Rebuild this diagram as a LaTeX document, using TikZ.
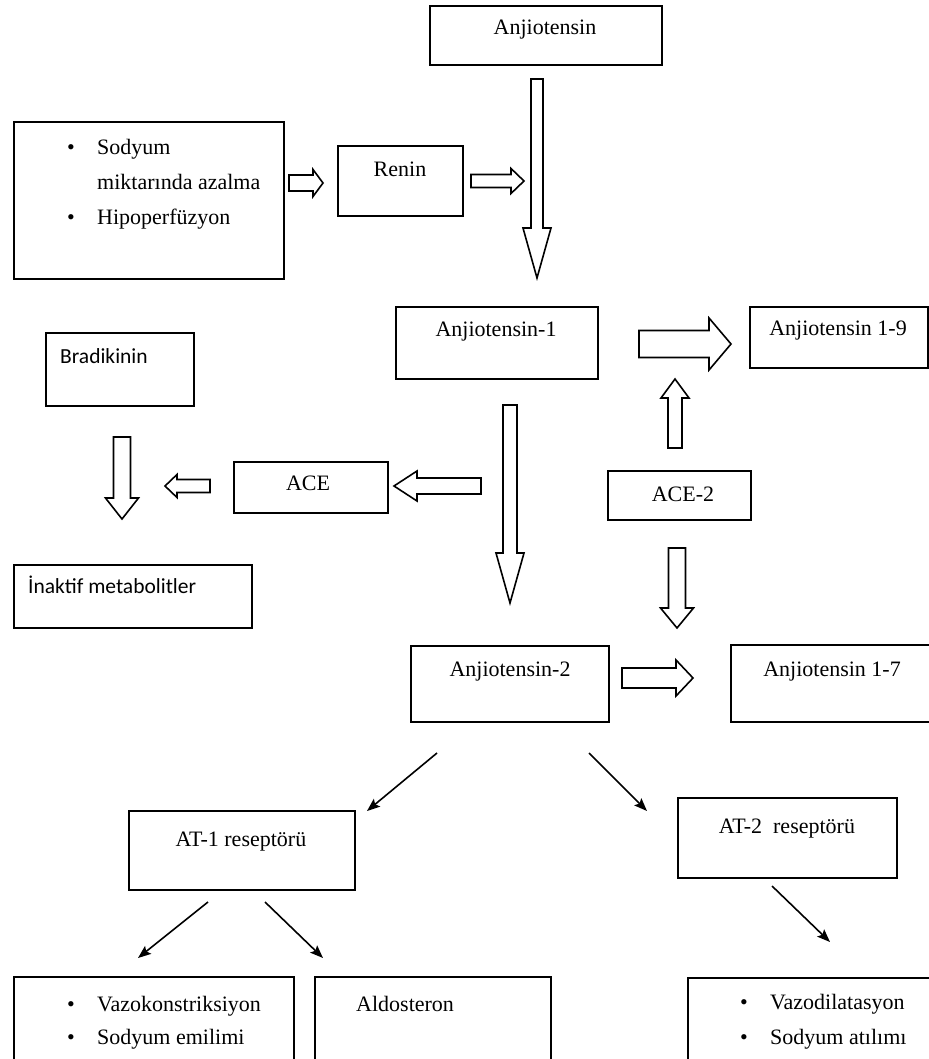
\documentclass[tikz,border=0pt]{standalone}
\usepackage{fontspec}
\setmainfont{Liberation Serif}
\newfontfamily\calibrifont{Carlito}
\usetikzlibrary{arrows.meta, calc}

% hollow block arrow: tail, tip, half shaft, half head, head length
\newcommand{\blockarrow}[5]{%
  \coordinate (bhead) at ($(#2)!#5pt!(#1)$);
  \draw[blk] ($(#1)!#3pt!90:(#2)$) -- ($(bhead)!#3pt!90:(#2)$)
    -- ($(bhead)!#4pt!90:(#2)$) -- (#2) -- ($(bhead)!#4pt!-90:(#2)$)
    -- ($(bhead)!#3pt!-90:(#2)$) -- ($(#1)!#3pt!-90:(#2)$) -- cycle;}
\newcommand{\itm}{\makebox[30pt][l]{•}}

\begin{document}
\begin{tikzpicture}[
  x=1pt, y=-1pt,
  font=\fontsize{22}{35}\selectfont,
  box/.style={draw, line width=1.7pt, anchor=north west, inner sep=0pt},
  lbl/.style={inner sep=0pt, anchor=base},
  lbll/.style={inner sep=0pt, anchor=base west},
  sans/.style={lbll, font=\calibrifont\fontsize{21.5}{26}\selectfont},
  blk/.style={draw, line width=1.6pt, fill=white, line join=miter},
  thin/.style={-{Stealth[length=13pt, width=10pt, inset=2.5pt]}, line width=1.6pt},
]
\useasboundingbox (0,0) rectangle (928,1059);

% boxes
\node[box, minimum width=232pt, minimum height=59pt] (anj)  at (429,5)   {};
\node[box, minimum width=270pt, minimum height=157pt] (sod) at (13,121)  {};
\node[box, minimum width=125pt, minimum height=70pt] (ren)  at (337,145) {};
\node[box, minimum width=202pt, minimum height=72pt] (ang1) at (395,306) {};
\node[box, minimum width=178pt, minimum height=61pt] (a19)  at (749,306) {};
\node[box, minimum width=148pt, minimum height=73pt] (brad) at (45,332)  {};
\node[box, minimum width=154pt, minimum height=51pt] (ace)  at (233,461) {};
\node[box, minimum width=143pt, minimum height=49pt] (ace2) at (607,470) {};
\node[box, minimum width=238pt, minimum height=63pt] (inak) at (13,564)  {};
\node[box, minimum width=198pt, minimum height=76pt] (ang2) at (410,645) {};
\node[box, minimum width=205pt, minimum height=77pt] (a17)  at (730,644) {};
\node[box, minimum width=226pt, minimum height=79pt] (at1)  at (128,810) {};
\node[box, minimum width=219pt, minimum height=80pt] (at2)  at (677,797) {};
\node[box, minimum width=280pt, minimum height=90pt] (vazo) at (13,976)  {};
\node[box, minimum width=236pt, minimum height=90pt] (aldo) at (314,976) {};
\node[box, minimum width=250pt, minimum height=90pt] (vdil) at (687,977) {};

% texts
\node[lbl] (anj-t)  at (545,35)  {Anjiotensin};
\node[lbll] (sod-t) at (67,155)
  {\begin{tabular}[t]{@{}l@{}}\itm Sodyum\\\hspace{30pt}miktarında azalma\\\itm Hipoperfüzyon\end{tabular}};
\node[lbl] (ren-t)  at (400,177) {Renin};
\node[lbl] (ang1-t) at (496,336) {Anjiotensin-1};
\node[lbl] (a19-t)  at (838,335) {Anjiotensin 1-9};
\node[sans] (brad-t) at (60,363) {Bradikinin};
\node[lbl] (ace-t)  at (308,490) {ACE};
\node[lbl] (ace2-t) at (683,501) {ACE-2};
\node[sans] (inak-t) at (28,593) {İnaktif metabolitler};
\node[lbl] (ang2-t) at (510,676) {Anjiotensin-2};
\node[lbl] (a17-t)  at (832,676) {Anjiotensin 1-7};
\node[lbl] (at1-t)  at (241,846) {AT-1 reseptörü};
\node[lbl] (at2-t)  at (787,833) {AT-2\ \ reseptörü};
\node[lbll, font=\fontsize{22}{33}\selectfont] (vazo-t) at (67,1011)
  {\begin{tabular}[t]{@{}l@{}}\itm Vazokonstriksiyon\\\itm Sodyum emilimi\end{tabular}};
\node[lbll] (aldo-t) at (356,1011) {Aldosteron};
\node[lbll] (vdil-t) at (740,1009)
  {\begin{tabular}[t]{@{}l@{}}\itm Vazodilatasyon\\\itm Sodyum atılımı\end{tabular}};

% block arrow ends
\coordinate (sod-o)  at (289,183); \coordinate (ren-i)  at (323,183);
\coordinate (ren-o)  at (471,181); \coordinate (ren-h)  at (524,181);
\coordinate (anj-o)  at (537,79);  \coordinate (ang1-i) at (537,278);
\coordinate (ang1-o) at (639,344); \coordinate (a19-i)  at (731,344);
\coordinate (ace2-u) at (675,448); \coordinate (a19-b)  at (675,379);
\coordinate (ang1-d) at (510,405); \coordinate (ang2-i) at (510,603);
\coordinate (ace-s)  at (481,486); \coordinate (ace-i)  at (394,486);
\coordinate (ace-o)  at (210,486); \coordinate (brd-h)  at (165,486);
\coordinate (brad-o) at (122,437); \coordinate (inak-i) at (122,519);
\coordinate (ace2-d) at (677,548); \coordinate (a17-u)  at (677,628);
\coordinate (ang2-o) at (622,678); \coordinate (a17-i)  at (693,678);

\blockarrow{sod-o}{ren-i}{8}{13.5}{10}
\blockarrow{ren-o}{ren-h}{6.5}{12.5}{13}
\blockarrow{anj-o}{ang1-i}{6}{14}{50}
\blockarrow{ang1-o}{a19-i}{13.5}{26}{22}
\blockarrow{ace2-u}{a19-b}{7}{14}{19}
\blockarrow{ang1-d}{ang2-i}{7}{14}{50}
\blockarrow{ace-s}{ace-i}{8}{15}{23}
\blockarrow{ace-o}{brd-h}{6.5}{11.5}{12}
\blockarrow{brad-o}{inak-i}{8.5}{16.5}{21}
\blockarrow{ace2-d}{a17-u}{8.5}{16.5}{20}
\blockarrow{ang2-o}{a17-i}{10}{18}{17}

% thin arrows
\coordinate (ang2-l) at (437,753); \coordinate (at1-i)  at (367,811);
\coordinate (ang2-r) at (589,753); \coordinate (at2-i)  at (647,811);
\coordinate (at1-l)  at (208,902); \coordinate (vazo-i) at (138,958);
\coordinate (at1-r)  at (265,902); \coordinate (aldo-i) at (323,958);
\coordinate (at2-o)  at (772,886); \coordinate (vdil-i) at (830,942);
\draw[thin] (ang2-l) -- (at1-i);
\draw[thin] (ang2-r) -- (at2-i);
\draw[thin] (at1-l) -- (vazo-i);
\draw[thin] (at1-r) -- (aldo-i);
\draw[thin] (at2-o) -- (vdil-i);
\end{tikzpicture}
\end{document}
